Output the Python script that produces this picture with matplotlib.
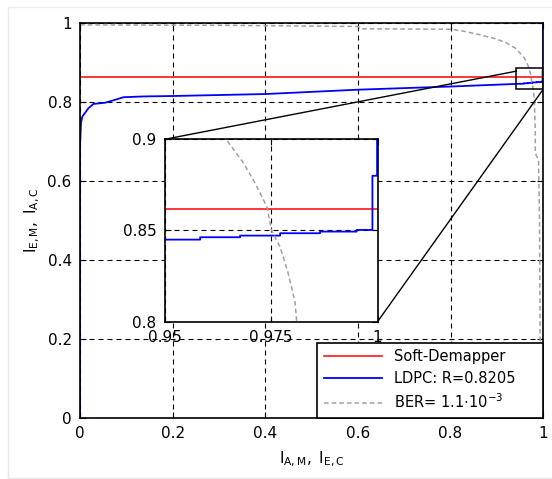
import numpy as np
import matplotlib
matplotlib.use("Agg")
import matplotlib.pyplot as plt
from matplotlib.patches import Rectangle
from matplotlib.lines import Line2D

plt.rcParams['mathtext.default'] = 'regular'
plt.rcParams['font.family'] = ['DejaVu Sans']

# curves
demap_x = [0.0, 1.0]
demap_y = [0.862, 0.862]

ldpc_x = [0, 0, 0.002, 0.005, 0.018, 0.029, 0.054, 0.083, 0.094, 0.14, 0.2, 0.4,
          0.6, 0.8, 0.95, 0.9583, 0.9583, 0.9677, 0.9677, 0.9771, 0.9771, 0.9865,
          0.9865, 0.9951, 0.9951, 0.9988, 0.9988, 0.9999, 0.9999]
ldpc_y = [0, 0.686, 0.745, 0.762, 0.783, 0.794, 0.797, 0.807, 0.811, 0.813, 0.814,
          0.819, 0.830, 0.838, 0.845, 0.845, 0.8463, 0.8463, 0.8472, 0.8472, 0.8485,
          0.8485, 0.8494, 0.8494, 0.8503, 0.8503, 0.880, 0.880, 1.0]

ber_x = [0, 0.3, 0.6, 0.61, 0.80, 0.82, 0.86, 0.90, 0.921, 0.94, 0.957, 0.9644,
         0.9685, 0.9712, 0.974, 0.9751, 0.9771, 0.979, 0.9806, 0.981, 0.983, 0.983,
         0.990, 0.992, 0.9935, 0.995]
ber_y = [0.994, 0.993, 0.990, 0.984, 0.983, 0.980, 0.970, 0.958, 0.948, 0.935, 0.914,
         0.90, 0.887, 0.876, 0.863, 0.850, 0.841, 0.8265, 0.811, 0.80, 0.728, 0.669,
         0.652, 0.509, 0.205, 0.0]

labels = ['Soft-Demapper', 'LDPC: R=0.8205', r'BER= 1.1$\cdot$10$^{-3}$']
main_ticks = [0, 0.2, 0.4, 0.6, 0.8, 1]
main_ticklabels = ['0', '0.2', '0.4', '0.6', '0.8', '1']
zoom_xticks = [0.95, 0.975, 1.0]
zoom_xticklabels = ['0.95', '0.975', '1']
zoom_yticks = [0.8, 0.85, 0.9]
zoom_yticklabels = ['0.8', '0.85', '0.9']
zoom_box = (0.942, 0.831, 0.058, 0.054)

grid_ls = (0, (4.5, 3.6))
ber_ls = (0, (3, 2))


def draw_curves(a):
    a.plot(demap_x, demap_y, color='#ff0000', lw=1.1, label=labels[0])
    a.plot(ldpc_x, ldpc_y, color='#0000ff', lw=1.3, label=labels[1])
    a.plot(ber_x, ber_y, color='#a0a0a0', lw=1.1, linestyle=ber_ls, label=labels[2])


fig = plt.figure(figsize=(5.52, 4.79), dpi=100)
ax = fig.add_axes([0.145, 0.128, 0.839, 0.825])
draw_curves(ax)
ax.set_xlim(0, 1)
ax.set_ylim(0, 1)
ax.set_xticks(main_ticks, main_ticklabels)
ax.set_yticks(main_ticks, main_ticklabels)
ax.tick_params(direction='in', top=True, right=True, length=4, labelsize=11, pad=6)
ax.grid(True, color='k', linestyle=grid_ls, linewidth=0.8)
for s in ax.spines.values():
    s.set_linewidth(1.2)
ax.set_xlabel(r'$I_{A,M},\ I_{E,C}$', fontsize=11, labelpad=6)
ax.set_ylabel(r'$I_{E,M},\ I_{A,C}$', fontsize=11, labelpad=4)

# zoom box
bx, by, bw, bh = zoom_box
ax.add_patch(Rectangle((bx, by), bw, bh, fill=False, edgecolor='k', lw=1.1, zorder=5))

# inset
axin = fig.add_axes([0.2986, 0.3284, 0.3853, 0.3808])
draw_curves(axin)
axin.set_xlim(0.95, 1.0)
axin.set_ylim(0.8, 0.9)
axin.set_xticks(zoom_xticks, zoom_xticklabels)
axin.set_yticks(zoom_yticks, zoom_yticklabels)
axin.tick_params(direction='in', top=True, right=True, length=4, labelsize=11, pad=6)
axin.grid(True, color='k', linestyle=grid_ls, linewidth=0.8)
for s in axin.spines.values():
    s.set_linewidth(1.2)

# connector lines from inset corners to zoom box corners
fig.canvas.draw()
inv = ax.transData.inverted()
p_tl = inv.transform(axin.transAxes.transform((0, 1)))
p_br = inv.transform(axin.transAxes.transform((1, 0)))
ax.plot([p_tl[0], bx], [p_tl[1], by + bh * 0.85], color='k', lw=1.0, zorder=4)
ax.plot([p_br[0], bx + bw], [p_br[1], by], color='k', lw=1.0, zorder=4)

leg = ax.legend(loc='lower left', bbox_to_anchor=(0.512, 0.0, 0.488, 0.197), mode='expand',
                borderaxespad=0, fancybox=False, edgecolor='k', framealpha=1,
                fontsize=10.5, handlelength=4.0, labelspacing=0.45, borderpad=0.45,
                handletextpad=0.8)
leg.get_frame().set_linewidth(1.2)
leg.set_zorder(10)

# faint page frame
fig.add_artist(Line2D([8 / 552, 8 / 552], [1 / 479, 1 - 7 / 479], color='#e8e8e8', lw=1))
fig.add_artist(Line2D([8 / 552, 1], [1 - 7 / 479, 1 - 7 / 479], color='#eeeeee', lw=1))
fig.add_artist(Line2D([8 / 552, 1], [1 / 479, 1 / 479], color='#e8e8e8', lw=1))

fig.savefig('out.png', dpi=100)
